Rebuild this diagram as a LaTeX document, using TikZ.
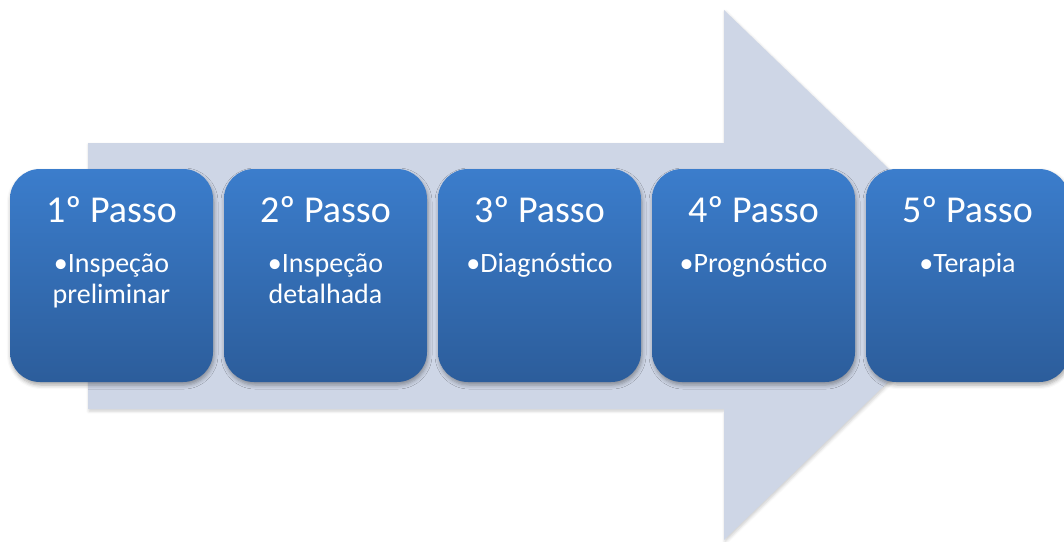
\documentclass[tikz,border=0pt]{standalone}
\usepackage{fontspec}
\setmainfont{Carlito}
\usetikzlibrary{shadows.blur,calc}
\definecolor{arrowfill}{HTML}{CED6E6}
\definecolor{boxtop}{HTML}{3B7DCC}
\definecolor{boxbot}{HTML}{2C5D9B}
\begin{document}
\begin{tikzpicture}[x=1pt,y=-1pt,
  stepbox/.style={rounded corners=30pt, minimum width=203pt, minimum height=213pt,
    inner sep=0pt, top color=boxtop, bottom color=boxbot,
    blur shadow={shadow xshift=1pt, shadow yshift=-3pt, shadow blur radius=4pt, shadow opacity=35}},
  title/.style={anchor=base, text=white, font=\fontsize{38}{45}\selectfont, inner sep=0pt},
  item/.style={anchor=base, text=white, font=\fontsize{28}{31}\selectfont, align=center, inner sep=0pt},
  bigarrow/.style={fill=arrowfill, draw=none,
    blur shadow={shadow xshift=1pt, shadow yshift=-2pt, shadow blur radius=3pt, shadow opacity=20}}]
\useasboundingbox (0,0) rectangle (1064,541);
% background arrow
\path[bigarrow] (88,143) -- (724,143) -- (724,10) -- (999,275) -- (724,540) -- (724,409) -- (88,409) -- cycle;
% boxes
\node[stepbox] (b1) at (111.5,275.5) {};
\node[stepbox] (b2) at (325.5,275.5) {};
\node[stepbox] (b3) at (539.5,275.5) {};
\node[stepbox] (b4) at (753.5,275.5) {};
\node[stepbox] (b5) at (967.5,275.5) {};
% titles
\node[title] (t1) at ($(b1.center)+(0,-53.5)$) {1º Passo};
\node[title] (t2) at ($(b2.center)+(0,-53.5)$) {2º Passo};
\node[title] (t3) at ($(b3.center)+(0,-53.5)$) {3º Passo};
\node[title] (t4) at ($(b4.center)+(0,-53.5)$) {4º Passo};
\node[title] (t5) at ($(b5.center)+(0,-53.5)$) {5º Passo};
% items (base anchor = baseline of the last line)
\node[item] (i1) at ($(b1.center)+(0,27.5)$) {•Inspeção\\preliminar};
\node[item] (i2) at ($(b2.center)+(0,27.5)$) {•Inspeção\\detalhada};
\node[item] (i3) at ($(b3.center)+(0,-3.5)$) {•Diagnóstico};
\node[item] (i4) at ($(b4.center)+(0,-3.5)$) {•Prognóstico};
\node[item] (i5) at ($(b5.center)+(0,-3.5)$) {•Terapia};
\end{tikzpicture}
\end{document}
